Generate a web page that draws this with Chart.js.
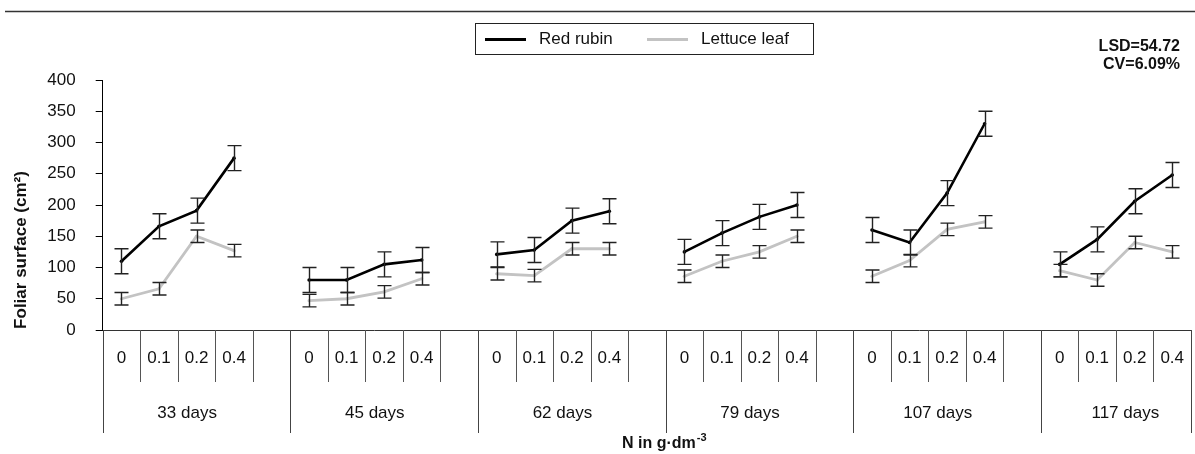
<!DOCTYPE html>
<html>
<head>
<meta charset="utf-8">
<script src="https://cdn.jsdelivr.net/npm/chart.js@4.4.0/dist/chart.umd.min.js"></script>
<style>
  html, body { margin: 0; padding: 0; background: #fff; }
  #wrap { width: 1195px; height: 454px; position: relative; }
</style>
</head>
<body>
<div id="wrap"><canvas id="foliarChart"></canvas></div>
<script>
// N doses inside each sampling date, and the sampling dates
const doses = ["0", "0.1", "0.2", "0.4"];
const days = ["33 days", "45 days", "62 days", "79 days", "107 days", "117 days"];
const yTicks = [0, 50, 100, 150, 200, 250, 300, 350, 400];

// foliar surface (cm2), null = empty slot between dates
const redRubin = [110, 166, 191, 275, null, 80, 80, 105, 112, null, 121, 128, 175, 190, null,
  125, 155, 181, 200, null, 160, 140, 219, 330, null, 105, 145, 206, 248];
const redRubinErr = [20, 20, 20, 20, null, 20, 20, 20, 20, null, 20, 20, 20, 20, null,
  20, 20, 20, 20, null, 20, 20, 20, 20, null, 20, 20, 20, 20];
const lettuceLeaf = [50, 66, 150, 127, null, 47, 50, 61, 82, null, 90, 87, 130, 130, null,
  86, 110, 125, 150, null, 86, 111, 161, 173, null, 95, 80, 140, 125];
const lettuceLeafErr = [10, 10, 10, 10, null, 10, 10, 10, 10, null, 10, 10, 10, 10, null,
  10, 10, 10, 10, null, 10, 10, 10, 10, null, 10, 10, 10, 10];
const stats = ["LSD=54.72", "CV=6.09%"];
const yTitle = "Foliar surface (cm\u00b2)";

// one category per dose, plus a blank gap between dates
const categories = [];
days.forEach((d, i) => {
  doses.forEach(n => categories.push(n));
  if (i < days.length - 1) categories.push("");
});

const FONT = "'Liberation Sans', Arial, sans-serif";

// top rule, two level x axis, titles, legend box, stats text
const decor = {
  id: "decor",
  beforeDraw(chart) {
    const ctx = chart.ctx;
    ctx.save();
    ctx.strokeStyle = "#333";
    ctx.lineWidth = 1.5;
    ctx.beginPath();
    ctx.moveTo(5, 11.5);
    ctx.lineTo(1195, 11.5);
    ctx.stroke();
    ctx.restore();
  },
  afterDraw(chart) {
    const ctx = chart.ctx;
    const x = chart.scales.x;
    const bottom = chart.chartArea.bottom;
    const w = x.getPixelForValue(1) - x.getPixelForValue(0);

    ctx.save();
    ctx.lineWidth = 1;
    ctx.fillStyle = "#111";
    ctx.textBaseline = "middle";
    ctx.textAlign = "center";

    const vline = (px, len, color) => {
      ctx.strokeStyle = color;
      ctx.beginPath();
      ctx.moveTo(Math.round(px) + 0.5, bottom);
      ctx.lineTo(Math.round(px) + 0.5, bottom + len);
      ctx.stroke();
    };

    let idx = 0;
    days.forEach((d, g) => {
      const n = g < days.length - 1 ? doses.length + 1 : doses.length;
      const left = x.getPixelForValue(idx) - w / 2;
      vline(left, 103, "#444");
      for (let k = 1; k < n; k++) vline(left + k * w, 52, "#555");
      ctx.font = "17px " + FONT;
      doses.forEach((lab, k) => ctx.fillText(lab, x.getPixelForValue(idx + k), bottom + 28));
      ctx.fillText(d, left + 2.25 * w, bottom + 83);
      idx += n;
    });
    vline(x.getPixelForValue(idx - 1) + w / 2, 103, "#444");

    // x title with superscript
    ctx.textAlign = "left";
    ctx.font = "bold 16px " + FONT;
    const base = "N in g\u00b7dm";
    ctx.fillText(base, 622, 444);
    const bw = ctx.measureText(base).width;
    ctx.font = "bold 11px " + FONT;
    ctx.fillText("-3", 622 + bw + 1, 438);

    // y title, sits low like the original
    ctx.save();
    ctx.translate(21, 250);
    ctx.rotate(-Math.PI / 2);
    ctx.textAlign = "center";
    ctx.font = "bold 17px " + FONT;
    ctx.fillText(yTitle, 0, 0);
    ctx.restore();

    // legend
    ctx.strokeStyle = "#222";
    ctx.strokeRect(475.5, 23.5, 338, 31);
    const lx = [485, 647];
    chart.data.datasets.forEach((ds, i) => {
      ctx.strokeStyle = ds.borderColor;
      ctx.lineWidth = 3;
      ctx.beginPath();
      ctx.moveTo(lx[i], 39.5);
      ctx.lineTo(lx[i] + 41, 39.5);
      ctx.stroke();
      ctx.fillStyle = "#111";
      ctx.font = "17px " + FONT;
      ctx.fillText(ds.label, lx[i] + 54, 39);
    });

    // LSD / CV
    ctx.textAlign = "right";
    ctx.font = "bold 16px " + FONT;
    stats.forEach((s, i) => ctx.fillText(s, 1180, 47 + i * 18));
    ctx.restore();
  }
};

// vertical error bars with caps
const errorBars = {
  id: "errorBars",
  afterDatasetsDraw(chart) {
    const ctx = chart.ctx;
    const y = chart.scales.y;
    const errs = [redRubinErr, lettuceLeafErr];
    ctx.save();
    ctx.strokeStyle = "#222";
    ctx.lineWidth = 1.4;
    chart.data.datasets.forEach((ds, i) => {
      const meta = chart.getDatasetMeta(i);
      meta.data.forEach((pt, j) => {
        const v = ds.data[j];
        if (v === null) return;
        const top = y.getPixelForValue(v + errs[i][j]);
        const bot = y.getPixelForValue(v - errs[i][j]);
        const px = Math.round(pt.x) + 0.5;
        ctx.beginPath();
        ctx.moveTo(px, top);
        ctx.lineTo(px, bot);
        ctx.moveTo(px - 7, top);
        ctx.lineTo(px + 7, top);
        ctx.moveTo(px - 7, bot);
        ctx.lineTo(px + 7, bot);
        ctx.stroke();
      });
    });
    ctx.restore();
  }
};

const ctx = document.getElementById("foliarChart").getContext("2d");
const foliarChart = new Chart(ctx, {
  type: "line",
  data: {
    labels: categories,
    datasets: [
      {
        label: "Red rubin",
        data: redRubin,
        borderColor: "#000",
        backgroundColor: "#000",
        borderWidth: 2.6,
        pointRadius: 1.8,
        pointBorderWidth: 0,
        tension: 0,
      },
      {
        label: "Lettuce leaf",
        data: lettuceLeaf,
        borderColor: "#c3c3c3",
        backgroundColor: "#c3c3c3",
        borderWidth: 2.8,
        pointRadius: 1.6,
        pointBorderWidth: 0,
        tension: 0,
      },
    ],
  },
  options: {
    responsive: true,
    maintainAspectRatio: false,
    animation: false,
    layout: { padding: { top: 80, right: 2.3, left: 0, bottom: 0 } },
    plugins: {
      legend: { display: false },
      tooltip: { enabled: false },
    },
    scales: {
      x: {
        type: "category",
        offset: true,
        grid: { display: false },
        ticks: { display: false },
        border: { color: "#333", width: 1 },
        afterFit(scale) { scale.height = 124; },
      },
      y: {
        min: 0,
        max: 400,
        afterBuildTicks(scale) { scale.ticks = yTicks.map(v => ({ value: v })); },
        grid: { drawOnChartArea: false, tickLength: 7, color: "#000" },
        border: { color: "#000", width: 1 },
        ticks: { padding: 20, color: "#111", font: { family: FONT, size: 17 } },
        afterFit(scale) { scale.width = 102.7; },
      },
    },
  },
  plugins: [decor, errorBars],
});
</script>
</body>
</html>
